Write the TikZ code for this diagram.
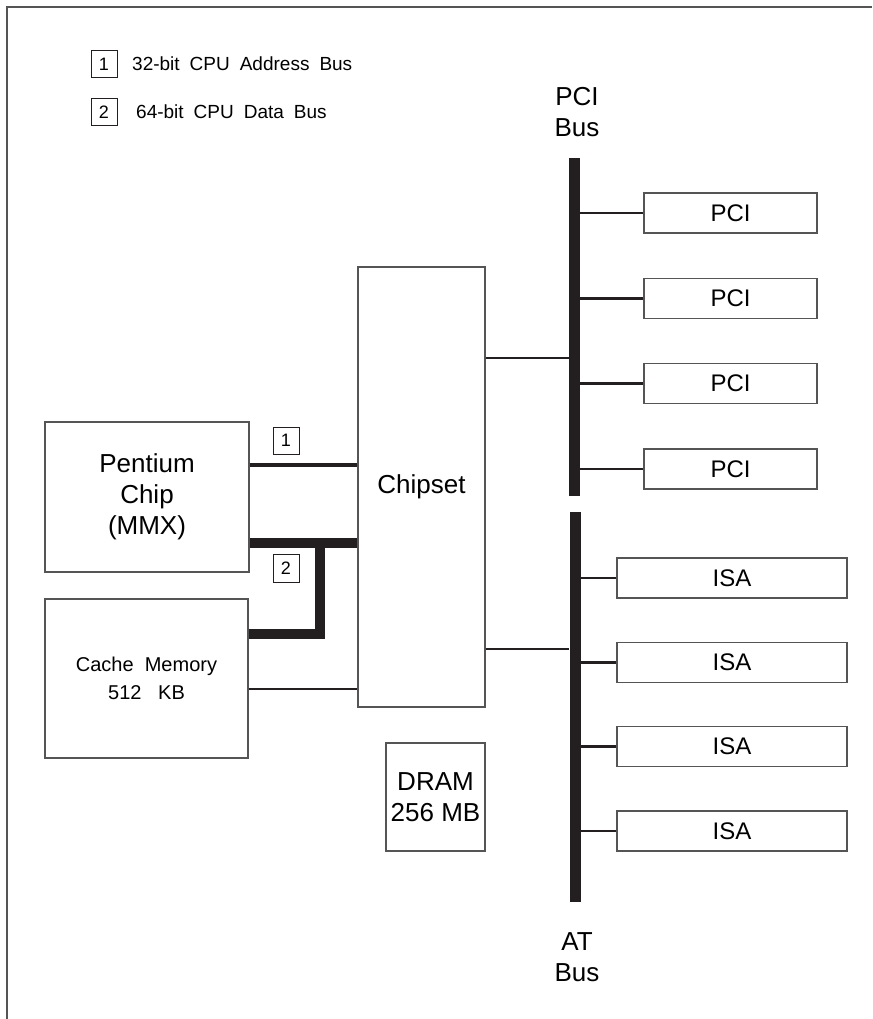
\documentclass[tikz,border=0pt]{standalone}
\usepackage{fontspec}
\setmainfont{Liberation Sans}
\usepackage{xcolor}
\usepackage{tikz}
\usetikzlibrary{positioning}

\definecolor{ink}{HTML}{231F20}
\definecolor{edge}{HTML}{555555}
\newcommand{\bigtxt}{\fontsize{26}{31}\selectfont}
\newcommand{\midtxt}{\fontsize{24}{29}\selectfont}
\newcommand{\smalltxt}{\fontsize{20}{28}\selectfont}
\newcommand{\tagtxt}{\fontsize{18}{22}\selectfont}
\newcommand{\keytxt}{\fontsize{19}{22}\selectfont\spaceskip=10pt}

\begin{document}
\begin{tikzpicture}[x=1pt,y=-1pt,
  blk/.style={draw=edge,line width=1.3pt,inner sep=0pt,align=center,fill=white},
  card/.style={blk,minimum height=40pt,font=\midtxt},
  tag/.style={draw=ink,line width=1pt,inner sep=0pt,minimum width=26pt,minimum height=27pt,font=\tagtxt},
  bus/.style={fill=ink,inner sep=0pt,minimum width=11pt},
  wire/.style={draw=ink,line width=2.5pt},
  addrbus/.style={draw=ink,line width=4.5pt},
  databus/.style={draw=ink,line width=10pt,line join=miter}]
\useasboundingbox (0,0) rectangle (872,1019);
\draw[edge,line width=1.3pt] (7,1019) -- (7,7) -- (872,7);
% legend
\node[tag] (key1) at (104,64) {1};
\node[tag] (key2) at (104,112) {2};
\node[anchor=west,font=\keytxt,inner sep=0pt] (key1txt) at (132,64) {32-bit CPU Address Bus};
\node[anchor=west,font=\keytxt,inner sep=0pt] (key2txt) at (136,112) {64-bit CPU Data Bus};
% main blocks
\node[blk,minimum width=204pt,minimum height=150pt,font=\bigtxt] (cpu) at (147,497) {Pentium\\Chip\\(MMX)};
\node[blk,minimum width=203pt,minimum height=159pt,font=\smalltxt] (cache) at (146.5,678.5) {Cache\ \ Memory\\512\ \ \ KB};
\node[blk,minimum width=127pt,minimum height=440pt,font=\bigtxt] (chip) at (421.5,487) {Chipset};
\node[blk,minimum width=99pt,minimum height=108pt,font=\bigtxt] (dram) at (435.5,797) {DRAM\\256 MB};
% buses
\node[bus,minimum height=338pt] (pcibus) at (574.5,327) {};
\node[bus,minimum height=390pt] (atbus) at (575,707) {};
\node[font=\bigtxt,align=center,inner sep=0pt] (pcilbl) at (577,112) {PCI\\Bus};
\node[font=\bigtxt,align=center,inner sep=0pt] (atlbl) at (577,957) {AT\\Bus};
% slots
\node[card,minimum width=173pt] (pci1) at (730.5,213) {PCI};
\node[card,minimum width=173pt,below=44pt of pci1] (pci2) {PCI};
\node[card,minimum width=173pt,below=44pt of pci2] (pci3) {PCI};
\node[card,minimum width=173pt,below=44pt of pci3] (pci4) {PCI};
\node[card,minimum width=230pt] (isa1) at (732,578) {ISA};
\node[card,minimum width=230pt,below=43pt of isa1] (isa2) {ISA};
\node[card,minimum width=230pt,below=43pt of isa2] (isa3) {ISA};
\node[card,minimum width=230pt,below=43pt of isa3] (isa4) {ISA};
\draw[wire] (pcibus.east |- pci1) -- (pci1.west);
\draw[wire] (pcibus.east |- pci2) -- (pci2.west);
\draw[wire] (pcibus.east |- pci3) -- (pci3.west);
\draw[wire] (pcibus.east |- pci4) -- (pci4.west);
\draw[wire] (atbus.east |- isa1) -- (isa1.west);
\draw[wire] (atbus.east |- isa2) -- (isa2.west);
\draw[wire] (atbus.east |- isa3) -- (isa3.west);
\draw[wire] (atbus.east |- isa4) -- (isa4.west);
% chipset links
\coordinate (pcitap) at (0,358);
\coordinate (attap) at (0,649);
\draw[wire] (chip.east |- pcitap) -- (pcibus.west |- pcitap);
\draw[wire] (chip.east |- attap) -- (atbus.west |- attap);
% cpu buses
\coordinate (addr) at (0,465);
\coordinate (tee) at (320,543);
\coordinate (bend) at (320,633.5);
\coordinate (cachetap) at (0,689);
\draw[addrbus] (cpu.east |- addr) -- (chip.west |- addr);
\draw[databus] (cpu.east |- tee) -- (chip.west |- tee);
\draw[databus] (bend -| cache.east) -- (bend) -- ([yshift=-5pt]tee);
\draw[wire] (cache.east |- cachetap) -- (chip.west |- cachetap);
\node[tag] (bus1) at (286,440.5) {1};
\node[tag,minimum height=28pt] (bus2) at (286,568) {2};
\end{tikzpicture}
\end{document}
